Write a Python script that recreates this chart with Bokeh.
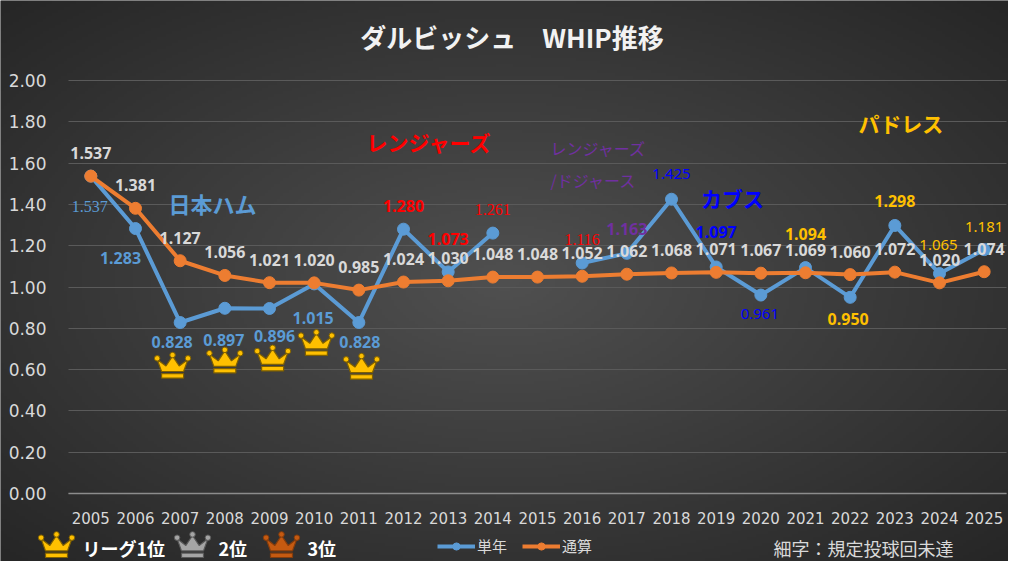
import math

import numpy as np
from bokeh.core.properties import value
from bokeh.embed import file_html
from bokeh.models import (
    BasicTickFormatter,
    ColumnDataSource,
    FixedTicker,
    Label,
    Legend,
    LegendItem,
    NumeralTickFormatter,
    Range1d,
)
from bokeh.plotting import figure
from bokeh.resources import INLINE

# ── data ───────────────────────────────────────────────────
years = list(range(2005, 2026))
single_whip = [1.537, 1.283, 0.828, 0.897, 0.896, 1.015, 0.828, 1.280, 1.073, 1.261,
               None, 1.116, 1.163, 1.425, 1.097, 0.961, 1.094, 0.950, 1.298, 1.065, 1.181]
career_whip = [1.537, 1.381, 1.127, 1.056, 1.021, 1.020, 0.985, 1.024, 1.030, 1.048,
               1.048, 1.052, 1.062, 1.068, 1.071, 1.067, 1.069, 1.060, 1.072, 1.020, 1.074]
# team of each season and whether the innings qualified (bold label)
teams = ["F"] * 7 + ["R"] * 5 + ["RD"] + ["C"] * 3 + ["P"] * 5
qualified = [False, True, True, True, True, True, True, True, True, False,
             False, False, True, False, True, False, True, True, True, False, False]
team_names = {"F": "日本ハム", "R": "レンジャーズ", "C": "カブス", "P": "パドレス"}
league_first = [2007, 2008, 2009, 2010, 2011]
y_ticks = [0.0, 0.2, 0.4, 0.6, 0.8, 1.0, 1.2, 1.4, 1.6, 1.8, 2.0]

# ── style / layout ─────────────────────────────────────────
BG = "#3f3f3f"
TXT = "#d9d9d9"
BLUE = "#5b9bd5"
ORANGE = "#ed7d31"
TEAM_COLORS = {"F": "#5b9bd5", "R": "#ff0000", "RD": "#7030a0", "C": "#0000ff", "P": "#ffc000"}
JP = "Noto Sans CJK JP"

W, H = 1008, 561
FRAME_L, FRAME_B = 68, 493          # pixel position of (2004.5, 0.0)
PX_X = 938 / 21.0                   # pixels per season
PX_Y = 413 / 2.0                    # pixels per 1.00 WHIP
KEY_Y = 547                         # pixel row of the bottom key


def X(px):
    return 2004.5 + (px - FRAME_L) / PX_X


def Y(py):
    return (FRAME_B - py) / PX_Y


# label placement (pixel offsets from the point)
single_off = [(-1, 30), (-15, 29), (-8, 19), (-1, 32), (5, 28), (-1, 34), (1, 19),
              (0, -23), (0, -33), (0, -24), (0, 0), (0, -24), (0, -24), (0, -25),
              (0, -35), (-1, 19), (0, -34), (-2, 22), (0, -24), (-1, -29), (0, -23)]
serif_years = [2005, 2014, 2016]
crown_y = [0.612, 0.637, 0.647, 0.722, 0.607]
crown_dx = [-0.17, 0.0, 0.07, 0.05, 0.06]

CROWN_BODY = [(-10, 4), (-14, -7), (-6, -1), (0, -10), (6, -1), (14, -7), (10, 4)]
CROWN_BAND = [(-10, 6), (10, 6), (10, 10), (-10, 10)]
CROWN_TIPS = [(-14, -8), (0, -11), (14, -8)]


def crown(p, cx, cy, fill, line, k=1.1):
    shapes = (CROWN_BODY, CROWN_BAND)
    xs = [[cx + k * dx / PX_X for dx, dy in s] for s in shapes]
    ys = [[cy - k * dy / PX_Y for dx, dy in s] for s in shapes]
    p.patches(xs, ys, fill_color=fill, line_color=line, line_width=1.2)
    p.scatter([cx + k * dx / PX_X for dx, dy in CROWN_TIPS],
              [cy - k * dy / PX_Y for dx, dy in CROWN_TIPS],
              size=5.5, fill_color=fill, line_color=line, line_width=1)


p = figure(width=W, height=H, output_backend="svg", toolbar_location=None,
           x_range=Range1d(X(0), X(W)), y_range=Range1d(Y(H), Y(0)),
           min_border=0, background_fill_color=BG, border_fill_color=BG,
           outline_line_color=None)

# radial background shading
nx, ny = 336, 187
gx, gy = np.meshgrid(np.linspace(-1, 1, nx), np.linspace(-1, 1, ny))
r = np.sqrt(gx ** 2 + gy ** 2) / math.sqrt(2)
g = (80 - 42 * r).astype(np.uint8)
img = np.empty((ny, nx), dtype=np.uint32)
view = img.view(dtype=np.uint8).reshape((ny, nx, 4))
view[:, :, 0] = g
view[:, :, 1] = g
view[:, :, 2] = g
view[:, :, 3] = 255
bg = p.image_rgba(image=[img], x=X(0), y=Y(H), dw=X(W) - X(0), dh=Y(0) - Y(H))
bg.level = "image"

# axes drawn inside the frame
p.xaxis.fixed_location = 0
p.xaxis.bounds = (2004.5, 2025.5)
p.yaxis.fixed_location = 2004.5
p.yaxis.bounds = (0, 2)
p.xgrid.grid_line_color = None
p.ygrid.grid_line_color = "#5a5a5a"
p.ygrid.grid_line_width = 1
p.ygrid.cross_bounds = (2004.5, 2025.5)
p.yaxis.ticker = FixedTicker(ticks=y_ticks)
p.yaxis.formatter = NumeralTickFormatter(format="0.00")
p.xaxis.ticker = FixedTicker(ticks=years)
p.xaxis.formatter = BasicTickFormatter(use_scientific=False)
for ax in (p.xaxis, p.yaxis):
    ax.major_label_text_color = TXT
    ax.major_label_text_font = "DejaVu Sans"
    ax.major_tick_line_color = None
    ax.minor_tick_line_color = None
p.yaxis.major_label_text_font_size = "17px"
p.xaxis.major_label_text_font_size = "15px"
p.yaxis.axis_line_color = None
p.yaxis.major_label_standoff = 16
p.xaxis.axis_line_color = "#8c8c8c"
p.xaxis.axis_line_width = 1.5
p.xaxis.major_label_standoff = 12

# series
single_y = [math.nan if v is None else v for v in single_whip]
src_single = ColumnDataSource(dict(x=years, y=single_y))
src_career = ColumnDataSource(dict(x=years, y=career_whip))
l1 = p.line("x", "y", source=src_single, line_color=BLUE, line_width=4)
m1 = p.scatter("x", "y", source=src_single, size=12, fill_color=BLUE, line_color=BLUE)
l2 = p.line("x", "y", source=src_career, line_color=ORANGE, line_width=4)
m2 = p.scatter("x", "y", source=src_career, size=12, fill_color=ORANGE, line_color=ORANGE)

# single-season labels
lab = dict(x=[], y=[], text=[], color=[], style=[], font=[], size=[], xo=[], yo=[])
for yr, v, t, q, (xo, yo) in zip(years, single_whip, teams, qualified, single_off):
    if v is None:
        continue
    serif = yr in serif_years
    lab["x"].append(yr)
    lab["y"].append(v)
    lab["text"].append(f"{v:.3f}")
    lab["color"].append(TEAM_COLORS[t])
    lab["style"].append("bold" if q else "normal")
    lab["font"].append("Liberation Serif" if serif else "Noto Sans")
    lab["size"].append("16px" if (q or serif) else "15px")
    lab["xo"].append(xo)
    lab["yo"].append(yo)
p.text("x", "y", text="text", source=ColumnDataSource(lab), text_color="color",
       text_font="font", text_font_style="style", text_font_size="size",
       x_offset="xo", y_offset="yo", text_align="center", text_baseline="middle")

# career labels
p.text("x", "y", text="text",
       source=ColumnDataSource(dict(x=years, y=career_whip,
                                    text=[f"{v:.3f}" for v in career_whip])),
       text_color=TXT, text_font=value("Noto Sans"), text_font_style="bold",
       text_font_size="16px", y_offset=-23, text_align="center", text_baseline="middle")

# league-leader crowns
for yr, cy, dx in zip(league_first, crown_y, crown_dx):
    crown(p, yr + dx, cy, "#ffc000", "#7f6000")

# title and team names
p.add_layout(Label(x=X(511.5), y=Y(36), text="ダルビッシュ　WHIP推移", text_font=JP,
                   text_font_style="bold", text_font_size="26px", text_color="#f2f2f2",
                   text_align="center", text_baseline="middle"))
team_labels = [
    (212, 202, team_names["F"], TEAM_COLORS["F"], "bold", "22px", "center"),
    (429, 141, team_names["R"], TEAM_COLORS["R"], "bold", "21px", "center"),
    (550, 147, "レンジャーズ", TEAM_COLORS["RD"], "normal", "16px", "left"),
    (550, 179, "/ドジャース", TEAM_COLORS["RD"], "normal", "16px", "left"),
    (732, 197, team_names["C"], TEAM_COLORS["C"], "bold", "21px", "center"),
    (900, 122, team_names["P"], TEAM_COLORS["P"], "bold", "21px", "center"),
]
for px, py, t, c, st, sz, al in team_labels:
    p.add_layout(Label(x=X(px), y=Y(py), text=t, text_font=JP, text_font_style=st,
                       text_font_size=sz, text_color=c, text_align=al,
                       text_baseline="middle"))

# bottom key: crowns and notes
crown(p, X(56), Y(KEY_Y - 1), "#ffc000", "#7f6000")
crown(p, X(192), Y(KEY_Y - 1), "#a5a5a5", "#595959")
crown(p, X(281), Y(KEY_Y - 1), "#c55a11", "#843c0c")
for px, t in [(82, "リーグ1位"), (218, "2位"), (307, "3位")]:
    p.add_layout(Label(x=X(px), y=Y(KEY_Y), text=t, text_font=JP, text_font_style="bold",
                       text_font_size="18px", text_color="#ffffff",
                       text_baseline="middle"))
p.add_layout(Label(x=X(773), y=Y(KEY_Y), text="細字：規定投球回未達", text_font=JP,
                   text_font_size="18px", text_color=TXT, text_baseline="middle"))

legend = Legend(items=[LegendItem(label="単年", renderers=[l1, m1]),
                       LegendItem(label="通算", renderers=[l2, m2])],
                orientation="horizontal", location=(437, H - KEY_Y - 9), glyph_width=38,
                glyph_height=18, label_standoff=2, spacing=15, padding=0, margin=0,
                border_line_color=None, background_fill_alpha=0,
                label_text_color=TXT, label_text_font=JP, label_text_font_size="15px")
p.add_layout(legend)

open("out.html", "w").write(file_html(p, INLINE))
